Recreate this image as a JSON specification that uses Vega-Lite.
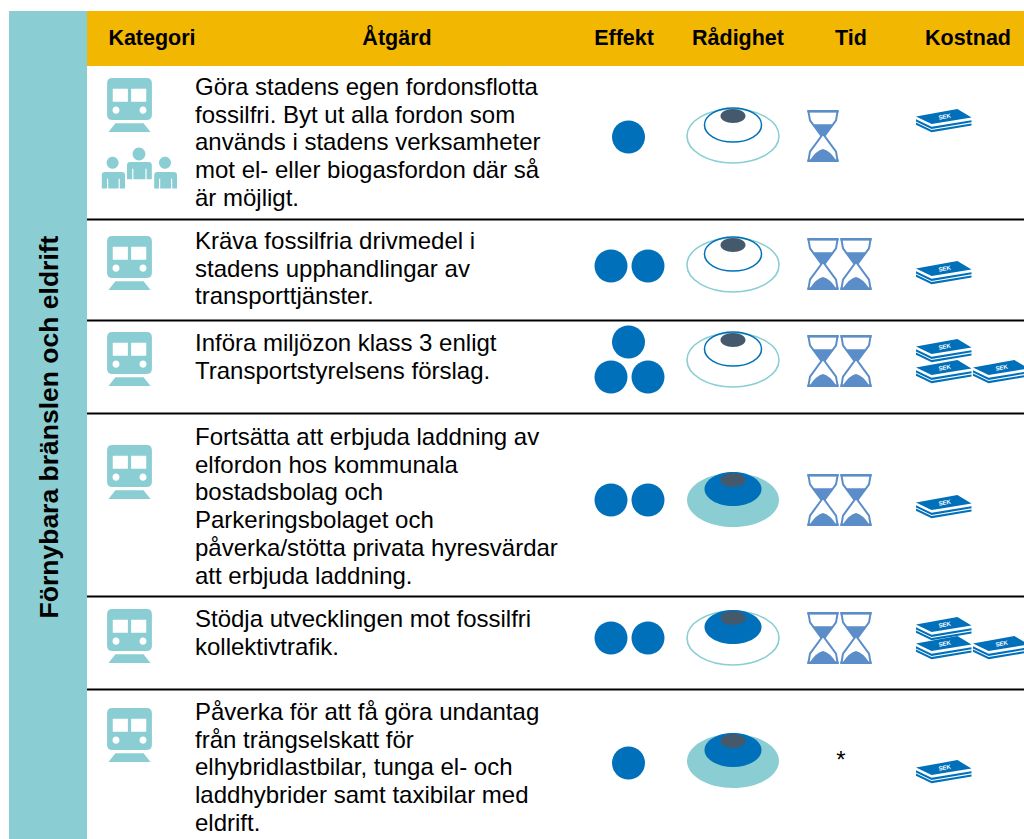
{
"$schema":"https://vega.github.io/schema/vega-lite/v6.json",
"width":1024,"height":839,"padding":0,"autosize":{"type":"none"},"background":"white",
"config":{"view":{"stroke":null},"axis":{"disable":true},"text":{"font":"Liberation Sans"}},
"datasets":{
"ytor":[{"del":"Sidband","v":0,"h":1,"t":0,"b":2},{"del":"Rubrikrad","v":1,"h":2,"t":0,"b":1}],
"granser":[{"grans":1},{"grans":2},{"grans":3},{"grans":4},{"grans":5}],
"rubriker":[{"nr":1,"rubrik":"Kategori"},{"nr":2,"rubrik":"Åtgärd"},{"nr":3,"rubrik":"Effekt"},{"nr":4,"rubrik":"Rådighet"},{"nr":5,"rubrik":"Tid"},{"nr":6,"rubrik":"Kostnad"}],
"atgarder":[
{"rad":1,"text":"Göra stadens egen fordonsflotta\nfossilfri. Byt ut alla fordon som\nanvänds i stadens verksamheter\nmot el- eller biogasfordon där så\när möjligt."},
{"rad":2,"text":"Kräva fossilfria drivmedel i\nstadens upphandlingar av\ntransporttjänster."},
{"rad":3,"text":"Införa miljözon klass 3 enligt\nTransportstyrelsens förslag."},
{"rad":4,"text":"Fortsätta att erbjuda laddning av\nelfordon hos kommunala\nbostadsbolag och\nParkeringsbolaget och\npåverka/stötta privata hyresvärdar\natt erbjuda laddning."},
{"rad":5,"text":"Stödja utvecklingen mot fossilfri\nkollektivtrafik."},
{"rad":6,"text":"Påverka för att få göra undantag\nfrån trängselskatt för\nelhybridlastbilar, tunga el- och\nladdhybrider samt taxibilar med\neldrift."}],
"kategori":[{"rad":1,"typ":"Transport"},{"rad":2,"typ":"Transport"},{"rad":3,"typ":"Transport"},{"rad":4,"typ":"Transport"},{"rad":5,"typ":"Transport"},{"rad":6,"typ":"Transport"}],
"personer":[{"rad":1,"typ":"Personer"}],
"effekt":[{"rad":1,"plats":1.5},{"rad":2,"plats":1},{"rad":2,"plats":2},{"rad":3,"plats":1.5},{"rad":3.5,"plats":1},{"rad":3.5,"plats":2},{"rad":4,"plats":1},{"rad":4,"plats":2},{"rad":5,"plats":1},{"rad":5,"plats":2},{"rad":6,"plats":1.5}],
"radighet":[{"rad":1,"niva":1},{"rad":2,"niva":1},{"rad":3,"niva":1},{"rad":4,"niva":3},{"rad":5,"niva":2},{"rad":6,"niva":3}],
"tid":[{"rad":1,"plats":1},{"rad":2,"plats":1},{"rad":2,"plats":2},{"rad":3,"plats":1},{"rad":3,"plats":2},{"rad":4,"plats":1},{"rad":4,"plats":2},{"rad":5,"plats":1},{"rad":5,"plats":2}],
"tidokand":[{"rad":6,"text":"*"}],
"kostnad":[{"rad":1,"plats":1},{"rad":2,"plats":1},{"rad":3.5,"plats":1},{"rad":3.5,"plats":2},{"rad":3,"plats":1},{"rad":4,"plats":1},{"rad":5.5,"plats":1},{"rad":5.5,"plats":2},{"rad":5,"plats":1},{"rad":6,"plats":1}]
},
"resolve":{"scale":{"x":"independent","y":"independent"}},
"layer":[
{"data":{"name":"ytor"},
 "mark":{"type":"rect"},
 "encoding":{
  "x":{"field":"v","type":"quantitative","scale":{"domain":[0,1,2],"range":[9,87,1024],"zero":false,"nice":false},"axis":null},
  "x2":{"field":"h"},
  "y":{"field":"t","type":"quantitative","scale":{"domain":[0,1,2],"range":[11,66,839],"zero":false,"nice":false},"axis":null},
  "y2":{"field":"b"},
  "color":{"field":"del","type":"nominal","legend":null,"scale":{"domain":["Sidband","Rubrikrad"],"range":["#8ACED3","#F2B700"]}}}},
{"data":{"name":"granser"},
 "mark":{"type":"rule","stroke":"#000000","strokeWidth":2},
 "encoding":{
  "x":{"datum":0,"scale":{"domain":[0,1],"range":[87,1024],"zero":false,"nice":false},"axis":null},
  "x2":{"datum":1},
  "y":{"field":"grans","type":"quantitative","scale":{"domain":[1,2,3,4,5],"range":[219.5,320.5,413.5,596.5,689.5],"zero":false,"nice":false},"axis":null}}},
{"data":{"name":"rubriker"},
 "mark":{"type":"text","font":"Liberation Sans","fontWeight":"bold","fontSize":21.5,"color":"#000000","align":"center","baseline":"middle"},
 "encoding":{
  "x":{"field":"nr","type":"quantitative","scale":{"domain":[1,2,3,4,5,6],"range":[152,397,624,738,851,968],"zero":false,"nice":false},"axis":null},
  "y":{"datum":0,"scale":{"domain":[0,1],"range":[39,40],"zero":false,"nice":false},"axis":null},
  "text":{"field":"rubrik"}}},
{"data":{"values":[{"titel":"Förnybara bränslen och eldrift"}]},
 "mark":{"type":"text","font":"Liberation Sans","fontWeight":"bold","fontSize":26.5,"color":"#000000","align":"center","baseline":"middle","angle":270},
 "encoding":{
  "x":{"datum":0,"scale":{"domain":[0,1],"range":[50,51],"zero":false,"nice":false},"axis":null},
  "y":{"datum":0,"scale":{"domain":[0,1],"range":[427,428],"zero":false,"nice":false},"axis":null},
  "text":{"field":"titel"}}},
{"data":{"name":"atgarder"},
 "mark":{"type":"text","font":"Liberation Sans","fontSize":24,"lineHeight":27.7,"lineBreak":"\n","color":"#000000","align":"left","baseline":"middle"},
 "encoding":{
  "x":{"datum":0,"scale":{"domain":[0,1],"range":[195,196],"zero":false,"nice":false},"axis":null},
  "y":{"field":"rad","type":"quantitative","scale":{"domain":[1,2,3,4,5,6],"range":[88,242,344,438,620,713],"zero":false,"nice":false},"axis":null},
  "text":{"field":"text"}}},
{"data":{"name":"kategori"},
 "mark":{"type":"point","filled":true,"opacity":1,"color":"#8ACED3","size":2916,
  "shape":"M-0.63,-1 L0.63,-1 Q0.83,-1 0.83,-0.8 L0.83,0.36 Q0.83,0.56 0.63,0.56 L-0.63,0.56 Q-0.83,0.56 -0.83,0.36 L-0.83,-0.8 Q-0.83,-1 -0.63,-1 Z M-0.62,-0.6 L-0.62,-0.12 L-0.06,-0.12 L-0.06,-0.6 Z M0.06,-0.6 L0.06,-0.12 L0.62,-0.12 L0.62,-0.6 Z M-0.63,0.19 A0.13,0.13 0 1,0 -0.37,0.19 A0.13,0.13 0 1,0 -0.63,0.19 Z M0.37,0.19 A0.13,0.13 0 1,0 0.63,0.19 A0.13,0.13 0 1,0 0.37,0.19 Z M-0.52,0.68 L0.52,0.68 L0.78,1 L-0.78,1 Z"},
 "encoding":{
  "x":{"datum":0,"scale":{"domain":[0,1],"range":[129.5,130.5],"zero":false,"nice":false},"axis":null},
  "y":{"field":"rad","type":"quantitative","scale":{"domain":[1,2,3,4,5,6],"range":[105,263,359,472,636,735],"zero":false,"nice":false},"axis":null}}},
{"data":{"name":"personer"},
 "mark":{"type":"point","filled":true,"opacity":1,"color":"#8ACED3","size":6400,
  "shape":"M-0.81,-0.18 A0.15,0.15 0 1,1 -0.51,-0.18 A0.15,0.15 0 1,1 -0.81,-0.18 Z M-0.93,0.46 L-0.93,0.13 Q-0.93,0.05 -0.85,0.05 L-0.43,0.05 Q-0.35,0.05 -0.35,0.13 L-0.35,0.46 Z M-0.8,0.22 L-0.8,0.46 L-0.77,0.46 L-0.77,0.22 Z M-0.51,0.22 L-0.51,0.46 L-0.48,0.46 L-0.48,0.22 Z M-0.16,-0.4 A0.16,0.16 0 1,1 0.16,-0.4 A0.16,0.16 0 1,1 -0.16,-0.4 Z M-0.3,0.23 L-0.3,-0.12 Q-0.3,-0.2 -0.22,-0.2 L0.24,-0.2 Q0.32,-0.2 0.32,-0.12 L0.32,0.23 Z M-0.17,-0.03 L-0.17,0.23 L-0.14,0.23 L-0.14,-0.03 Z M0.16,-0.03 L0.16,0.23 L0.19,0.23 L0.19,-0.03 Z M0.5,-0.18 A0.15,0.15 0 1,1 0.8,-0.18 A0.15,0.15 0 1,1 0.5,-0.18 Z M0.38,0.46 L0.38,0.13 Q0.38,0.05 0.46,0.05 L0.87,0.05 Q0.95,0.05 0.95,0.13 L0.95,0.46 Z M0.5,0.22 L0.5,0.46 L0.53,0.46 L0.53,0.22 Z M0.8,0.22 L0.8,0.46 L0.83,0.46 L0.83,0.22 Z"},
 "encoding":{
  "x":{"datum":0,"scale":{"domain":[0,1],"range":[139,140],"zero":false,"nice":false},"axis":null},
  "y":{"field":"rad","type":"quantitative","scale":{"domain":[1,2],"range":[170,171],"zero":false,"nice":false},"axis":null}}},
{"data":{"name":"effekt"},
 "mark":{"type":"circle","size":1089,"opacity":1,"color":"#0070BA"},
 "encoding":{
  "x":{"field":"plats","type":"quantitative","scale":{"domain":[1,1.5,2],"range":[611,628.5,648],"zero":false,"nice":false},"axis":null},
  "y":{"field":"rad","type":"quantitative","scale":{"domain":[1,2,3,3.5,4,5,6],"range":[137,266,342,377,500,638,763],"zero":false,"nice":false},"axis":null}}},
{"data":{"name":"radighet"},
 "encoding":{
  "x":{"datum":0,"scale":{"domain":[0,1],"range":[733,734],"zero":false,"nice":false},"axis":null},
  "y":{"field":"rad","type":"quantitative","scale":{"domain":[1,2,3,4,5,6],"range":[136,265,360,500,638,761],"zero":false,"nice":false},"axis":null}},
 "layer":[
  {"transform":[{"filter":"datum.niva == 3"}],
   "mark":{"type":"point","filled":true,"opacity":1,"color":"#8ACED3","size":8464,"shape":"M-1,0 A1,0.587 0 1,1 1,0 A1,0.587 0 1,1 -1,0 Z"}},
  {"transform":[{"filter":"datum.niva < 3"}],
   "mark":{"type":"point","filled":false,"opacity":1,"color":"#8ACED3","strokeWidth":1.6,"size":8464,"shape":"M-1,0 A1,0.587 0 1,1 1,0 A1,0.587 0 1,1 -1,0 Z"}},
  {"transform":[{"filter":"datum.niva >= 2"}],
   "mark":{"type":"point","filled":true,"opacity":1,"color":"#0070BA","size":8464,"shape":"M-0.62,-0.239 A0.62,0.37 0 1,1 0.62,-0.239 A0.62,0.37 0 1,1 -0.62,-0.239 Z"}},
  {"transform":[{"filter":"datum.niva == 1"}],
   "mark":{"type":"point","filled":false,"opacity":1,"color":"#0070BA","strokeWidth":1.5,"size":8464,"shape":"M-0.62,-0.239 A0.62,0.37 0 1,1 0.62,-0.239 A0.62,0.37 0 1,1 -0.62,-0.239 Z"}},
  {"mark":{"type":"point","filled":true,"opacity":1,"color":"#44596B","size":8464,"shape":"M-0.272,-0.435 A0.272,0.152 0 1,1 0.272,-0.435 A0.272,0.152 0 1,1 -0.272,-0.435 Z"}}
 ]},
{"data":{"name":"tid"},
 "encoding":{
  "x":{"field":"plats","type":"quantitative","scale":{"domain":[1,2],"range":[823,856],"zero":false,"nice":false},"axis":null},
  "y":{"field":"rad","type":"quantitative","scale":{"domain":[1,2,3,4,5],"range":[136,264,361,500,638],"zero":false,"nice":false},"axis":null}},
 "layer":[
  {"mark":{"type":"point","filled":false,"opacity":1,"color":"#5B8DC9","strokeWidth":2,"size":2704,
    "shape":"M-0.56,-0.95 L0.56,-0.95 L0.5,-0.6 L0.06,0 L0.5,0.6 L0.56,0.95 L-0.56,0.95 L-0.5,0.6 L-0.06,0 L-0.5,-0.6 Z"}},
  {"mark":{"type":"point","filled":true,"opacity":1,"color":"#5B8DC9","size":2704,
    "shape":"M-0.6,-1 L0.6,-1 L0.6,-0.9 L-0.6,-0.9 Z M-0.6,0.9 L0.6,0.9 L0.6,1 L-0.6,1 Z M-0.42,-0.45 L0.42,-0.45 L0.05,0 L-0.05,0 Z M-0.52,0.95 Q-0.25,0.55 0,0.5 Q0.25,0.55 0.52,0.95 Z"}}
 ]},
{"data":{"name":"tidokand"},
 "mark":{"type":"text","font":"Liberation Sans","fontSize":24,"color":"#000000","align":"center","baseline":"middle"},
 "encoding":{
  "x":{"datum":0,"scale":{"domain":[0,1],"range":[841,842],"zero":false,"nice":false},"axis":null},
  "y":{"field":"rad","type":"quantitative","scale":{"domain":[5,6],"range":[640,761],"zero":false,"nice":false},"axis":null},
  "text":{"field":"text"}}},
{"data":{"name":"kostnad"},
 "encoding":{
  "x":{"field":"plats","type":"quantitative","scale":{"domain":[1,2],"range":[943,1000],"zero":false,"nice":false},"axis":null},
  "y":{"field":"rad","type":"quantitative","scale":{"domain":[1,2,3,3.5,4,5,5.5,6],"range":[119,271,349,370,505,627,646,770],"zero":false,"nice":false},"axis":null}},
 "layer":[
  {"mark":{"type":"point","filled":true,"opacity":1,"color":"#0070BA","size":3600,
    "shape":"M-0.9,-0.08 L0.48,-0.33 L0.95,-0.05 L-0.38,0.17 Z M-0.9,0.01 L-0.38,0.26 L0.95,0.04 L0.95,0.11 L-0.38,0.33 L-0.9,0.08 Z M-0.9,0.12 L-0.38,0.37 L0.95,0.15 L0.95,0.22 L-0.38,0.44 L-0.9,0.19 Z"}},
  {"mark":{"type":"text","font":"Liberation Sans","fontWeight":"bold","fontSize":6,"color":"#FFFFFF","align":"center","baseline":"middle","angle":350,"dy":-2,"dx":2},
   "encoding":{"text":{"value":"SEK"}}}
 ]}
]
}
